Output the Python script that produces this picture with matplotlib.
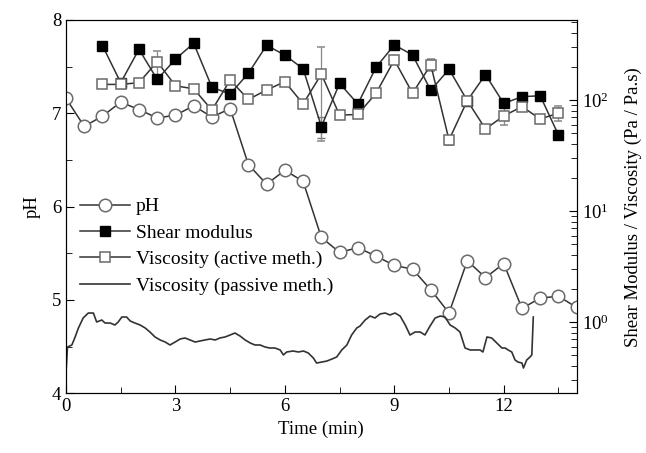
import matplotlib
matplotlib.use('Agg')
import matplotlib.pyplot as plt
from matplotlib.lines import Line2D
from matplotlib.ticker import MultipleLocator

plt.rcParams['font.family'] = ['Liberation Serif', 'DejaVu Serif']
plt.rcParams['mathtext.fontset'] = 'stix'

# pH readings (left axis)
ph_time = [0, 0.5, 1.0, 1.5, 2.0, 2.5, 3.0, 3.5, 4.0, 4.5, 5.0, 5.5, 6.0, 6.5,
           7.0, 7.5, 8.0, 8.5, 9.0, 9.5, 10.0, 10.5, 11.0, 11.5, 12.0, 12.5,
           13.0, 13.5, 14.0]
ph = [7.16, 6.86, 6.97, 7.12, 7.04, 6.95, 6.98, 7.08, 6.96, 7.05, 6.45, 6.24,
      6.39, 6.27, 5.67, 5.51, 5.56, 5.47, 5.37, 5.33, 5.11, 4.86, 5.42, 5.24,
      5.39, 4.91, 5.02, 5.04, 4.92]

# shear modulus and active-method viscosity (right axis, log)
rheo_time = [1.0, 1.5, 2.0, 2.5, 3.0, 3.5, 4.0, 4.5, 5.0, 5.5, 6.0, 6.5, 7.0,
             7.5, 8.0, 8.5, 9.0, 9.5, 10.0, 10.5, 11.0, 11.5, 12.0, 12.5,
             13.0, 13.5]
shear = [308, 143, 286, 153, 233, 324, 130, 113, 174, 311, 253, 191, 57.5,
         141, 92, 197, 313, 254, 122, 189, 98.6, 169, 93, 107, 109, 48.4]
shear_err = [0, 0, 0, 0, 0, 0, 0, 0, 0, 0, 0, 0, 12,
             0, 0, 0, 0, 0, 0, 0, 0, 0, 0, 0, 0, 0]
visc_active = [138, 138, 143, 221, 134, 126, 81, 151, 101, 123, 146, 92, 171,
               73, 74, 115, 229, 115, 207, 43.6, 98.6, 54.8, 71.8, 87, 67.4, 76]
visc_active_err = [0, 0, 0, 55, 0, 4, 5, 0, 0, 4, 0, 0, 128,
                   4, 4, 0, 0, 0, 25, 4, 0, 4, 12, 0, 0, 12]

# passive-method viscosity trace
passive_time = [0.00, 0.04, 0.16, 0.25, 0.34, 0.47, 0.61, 0.75, 0.84, 0.98,
                1.07, 1.21, 1.34, 1.43, 1.53, 1.66, 1.76, 1.89, 2.03, 2.17,
                2.30, 2.44, 2.58, 2.72, 2.85, 2.99, 3.13, 3.26, 3.40, 3.54,
                3.67, 3.81, 3.95, 4.09, 4.22, 4.36, 4.50, 4.63, 4.77, 4.91,
                5.05, 5.18, 5.32, 5.46, 5.59, 5.73, 5.87, 5.96, 6.05, 6.23,
                6.37, 6.51, 6.64, 6.78, 6.87, 7.01, 7.15, 7.29, 7.42, 7.56,
                7.70, 7.83, 7.97, 8.06, 8.20, 8.34, 8.47, 8.61, 8.75, 8.88,
                9.02, 9.16, 9.30, 9.43, 9.57, 9.71, 9.84, 9.98, 10.12, 10.26,
                10.39, 10.53, 10.67, 10.80, 10.94, 11.08, 11.35, 11.43, 11.54,
                11.67, 11.81, 11.95, 12.04, 12.12, 12.22, 12.31, 12.39, 12.50,
                12.54, 12.63, 12.72, 12.77, 12.81]
passive = [0.355, 0.595, 0.621, 0.733, 0.883, 1.087, 1.205, 1.205, 1.0, 1.042,
           0.979, 0.979, 0.940, 1.0, 1.109, 1.109, 1.021, 0.979, 0.940, 0.883,
           0.813, 0.733, 0.689, 0.660, 0.621, 0.660, 0.703, 0.718, 0.689, 0.660,
           0.674, 0.689, 0.703, 0.689, 0.718, 0.733, 0.764, 0.796, 0.748, 0.689,
           0.647, 0.621, 0.621, 0.595, 0.583, 0.583, 0.560, 0.505, 0.537, 0.548,
           0.537, 0.548, 0.526, 0.474, 0.427, 0.436, 0.445, 0.464, 0.484, 0.560,
           0.621, 0.764, 0.883, 0.920, 1.042, 1.132, 1.087, 1.181, 1.205, 1.157,
           1.205, 1.132, 0.940, 0.764, 0.813, 0.813, 0.764, 0.920, 1.087, 1.132,
           1.109, 0.940, 0.883, 0.813, 0.583, 0.560, 0.560, 0.537, 0.733,
           0.718, 0.647, 0.583, 0.583, 0.560, 0.537, 0.455, 0.436, 0.427,
           0.385, 0.455, 0.484, 0.505, 1.109]

line_col = '#333333'
mark_col = '#6a6a6a'

fig = plt.figure(figsize=(6.46, 4.53), dpi=100)
ax = fig.add_axes([0.1022, 0.1318, 0.7905, 0.8241])
ax2 = ax.twinx()

ax.plot(ph_time, ph, '-o', color=line_col, lw=1.1, ms=9,
        mfc='white', mec=mark_col, mew=1.1, zorder=3)

ax2.plot(passive_time, passive, '-', color=line_col, lw=1.2)
ax2.errorbar(rheo_time, shear, yerr=shear_err, fmt='-s', color=line_col,
             lw=1.1, ms=7.5, mfc='black', mec='black', ecolor='#777777',
             elinewidth=0.9, capsize=3)
ax2.errorbar(rheo_time, visc_active, yerr=visc_active_err, fmt='-s',
             color=line_col, lw=1.1, ms=7.5, mfc='white', mec=mark_col,
             mew=1.1, ecolor='#888888', elinewidth=0.9, capsize=3)

ax.set_xlim(0, 14)
ax.set_ylim(4, 8)
ax2.set_yscale('log')
ax2.set_ylim(0.228, 525)

ax.xaxis.set_major_locator(MultipleLocator(3))
ax.xaxis.set_minor_locator(MultipleLocator(1.5))
ax.yaxis.set_major_locator(MultipleLocator(1))
ax.yaxis.set_minor_locator(MultipleLocator(0.5))

ax.tick_params(which='both', direction='in', top=False, labelsize=13.5)
ax.tick_params(which='major', length=6)
ax.tick_params(which='minor', length=4)
ax2.tick_params(which='both', direction='in', labelsize=13.5)
ax2.tick_params(which='major', length=6)
ax2.tick_params(which='minor', length=4)

ax.set_xlabel('Time (min)', fontsize=13.5)
ax.set_ylabel('pH', fontsize=13.5, labelpad=8)
ax2.set_ylabel('Shear Modulus / Viscosity (Pa / Pa.s)', fontsize=13.5,
               labelpad=12)

handles = [
    Line2D([], [], color=line_col, lw=1.1, marker='o', ms=9, mfc='white',
           mec=mark_col, mew=1.1),
    Line2D([], [], color=line_col, lw=1.1, marker='s', ms=7.5, mfc='black',
           mec='black'),
    Line2D([], [], color=line_col, lw=1.1, marker='s', ms=7.5, mfc='white',
           mec=mark_col, mew=1.1),
    Line2D([], [], color=line_col, lw=1.2),
]
labels = ['pH', 'Shear modulus', 'Viscosity (active meth.)',
          'Viscosity (passive meth.)']
ax2.legend(handles, labels, loc='upper left', bbox_to_anchor=(0.0, 0.56),
           frameon=False, fontsize=14, handlelength=2.6, handletextpad=0.3,
           labelspacing=0.45, borderaxespad=0.3)

fig.savefig('out.png', dpi=100)
